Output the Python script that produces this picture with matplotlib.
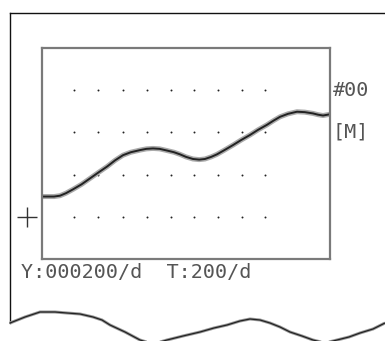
import numpy as np
import matplotlib.pyplot as plt

# trace (x in divisions, y in divisions)
trace_x = [0, 0.5, 0.75, 1.0, 1.29, 1.65, 2.0, 2.35, 2.71, 3.05, 3.375, 3.7,
           4.08, 4.35, 4.625, 4.9, 5.21, 5.5, 5.75, 6.0, 6.29, 6.55, 6.79,
           7.05, 7.29, 7.6, 7.96, 8.3, 8.67, 9.0, 9.375, 9.65, 9.92, 10.25,
           10.625, 10.95, 11.29, 11.5, 11.71, 12.0]
trace_y = [1.48, 1.48, 1.50, 1.56, 1.65, 1.77, 1.91, 2.05, 2.19, 2.34, 2.46, 2.53,
           2.58, 2.61, 2.62, 2.61, 2.57, 2.53, 2.48, 2.42, 2.37, 2.355, 2.37,
           2.42, 2.48, 2.58, 2.70, 2.82, 2.94, 3.06, 3.18, 3.28, 3.37, 3.44,
           3.49, 3.48, 3.45, 3.42, 3.40, 3.43]

# graticule dots
dot_cols = [1.33, 2.35, 3.36, 4.36, 5.36, 6.35, 7.35, 8.32, 9.29]
dot_rows = [1, 2, 3, 4]

scale_label = "Y:000200/d  T:200/d"
chan_label = "#00"
unit_label = "[M]"

# torn paper edge at the bottom (pixel coords of the scan)
edge_x = [10, 25, 40, 55, 67, 80, 93, 102, 110, 125, 140, 153, 167, 183, 200,
          214, 227, 240, 250, 260, 270, 280, 290, 302, 313, 325, 337, 349, 360, 373, 385]
edge_y = [323, 317, 312, 312, 313, 314, 317, 320, 325, 332, 340, 344, 340, 336, 332,
          328, 325, 321, 319, 320, 323, 327, 332, 336, 340, 343, 340, 337, 333, 329, 323]

W, H = 385, 341
fig = plt.figure(figsize=(W / 100, H / 100), dpi=100)

# background layer in pixel units
bg = fig.add_axes([0, 0, 1, 1])
bg.set_xlim(0, W)
bg.set_ylim(H, 0)
bg.axis('off')
bg.plot([10, W], [13, 13], color='#111', lw=1)
bg.plot([10, 10], [13, 323], color='#111', lw=1)
bg.plot(edge_x, edge_y, color='#999', lw=2.2, solid_capstyle='butt', solid_joinstyle='round')
bg.plot(edge_x, edge_y, color='#222', lw=0.9, solid_joinstyle='round')

# screen area
ax = fig.add_axes([42 / W, (H - 259) / H, 288 / W, 211 / H])
ax.set_xlim(0, 12)
ax.set_ylim(0, 5)
ax.set_xticks([])
ax.set_yticks([])
for s in ax.spines.values():
    s.set_color('#7a7a7a')
    s.set_linewidth(1.6)

gx, gy = np.meshgrid(dot_cols, dot_rows)
ax.scatter(gx.ravel(), gy.ravel(), s=2, color='#222', linewidths=0)

ax.plot(trace_x, trace_y, color='#aaa', lw=3.6, solid_capstyle='butt', solid_joinstyle='round')
ax.plot(trace_x, trace_y, color='#222', lw=1.4, solid_joinstyle='round')

font = dict(family='DejaVu Sans Mono', fontsize=14.5, color='#555')
ax.text(12.12, 4, chan_label, va='center', ha='left', clip_on=False, **font)
ax.text(12.12, 3, unit_label, va='center', ha='left', clip_on=False, **font)
ax.plot([-0.64], [1], marker='+', ms=14, mew=1, color='#333', clip_on=False)

bg.text(21, 272, scale_label, va='center', ha='left', **font)

fig.savefig('out.png', dpi=100)
